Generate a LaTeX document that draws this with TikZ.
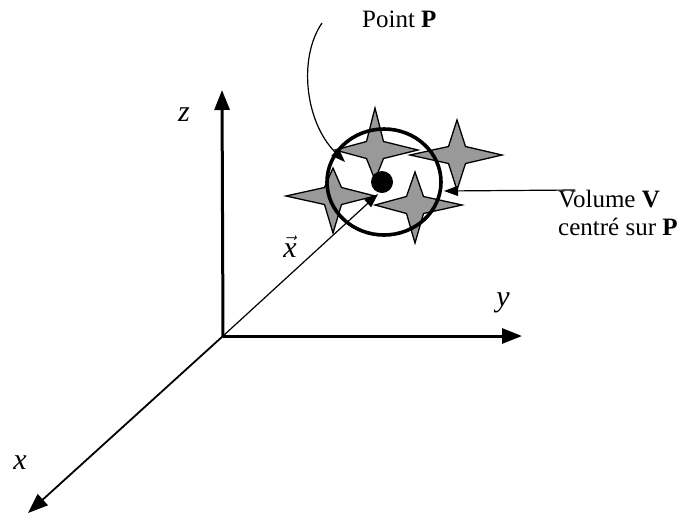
\documentclass[tikz,border=0pt]{standalone}
\usepackage{fontspec}
\setmainfont{Liberation Serif}
\usetikzlibrary{arrows.meta}
\newcommand\quadstar[6]{%
  \draw[starstyle,shift={(#1,#2)}] (0,-#3) -- (8.5,-8.5) -- (#4,0) -- (8.5,8.5) -- (0,#5) -- (-8.5,8.5) -- (-#6,0) -- (-8.5,-8.5) -- cycle;}
\tikzset{
  starstyle/.style={fill=black!40, draw=black, line width=1.3pt, line join=miter},
  axisthick/.style={line width=3pt, -{Triangle[length=20pt,width=15pt]}},
  axisthin/.style={line width=1.8pt, -{Triangle[length=20pt,width=15pt]}},
  leader/.style={line width=1.2pt, -{Triangle[length=14pt,width=10pt]}},
  axislabel/.style={font=\fontsize{30}{30}\selectfont\itshape, inner sep=0pt},
  txt/.style={font=\fontsize{25}{28}\selectfont, inner sep=0pt, align=left},
}
\begin{document}
\begin{tikzpicture}[x=1pt,y=-1pt]
\useasboundingbox (0,0) rectangle (688,515);
% stars
\quadstar{375}{150}{42}{43}{30}{40}
\quadstar{457}{155}{35}{45}{35}{47}
\quadstar{333}{196}{28}{42}{37}{47}
\quadstar{415}{205}{33}{47}{38}{40}
% volume circle
\draw[line width=3.6pt] (384,182) ellipse [x radius=57, y radius=53];
% point P
\fill (382,182) circle [radius=11];
% axes
\coordinate (O) at (223,336);
\coordinate (Z) at (222,90);
\coordinate (Y) at (522,336);
\coordinate (X) at (28,513);
\coordinate (V) at (378,194);
\draw[axisthick] (O) -- (Z);
\draw[axisthick] (O) -- (Y);
\draw[axisthin] (O) -- (X);
\draw[leader] (O) -- (V);
\node[axislabel] (zl) at (184,115) {z};
\node[axislabel] (yl) at (503,303) {y};
\node[axislabel] (xl) at (20,463) {x};
\node[axislabel, anchor=base] (vl) at (290,257) {$\vec{\mbox{\itshape x}}$};
% labels
\node[txt, anchor=base west] (pp) at (362,27) {Point \textbf{P}};
\node[txt, anchor=base west] (vv) at (558,235) {Volume \textbf{V}\\centré sur \textbf{P}};
\coordinate (c0) at (322,23);
\coordinate (c1) at (345,162);
\draw[leader] (c0) .. controls (298,58) and (305,122) .. (c1);
\coordinate (v0) at (575,190);
\coordinate (v1) at (444,191);
\draw[leader] (v0) -- (v1);
\end{tikzpicture}
\end{document}
